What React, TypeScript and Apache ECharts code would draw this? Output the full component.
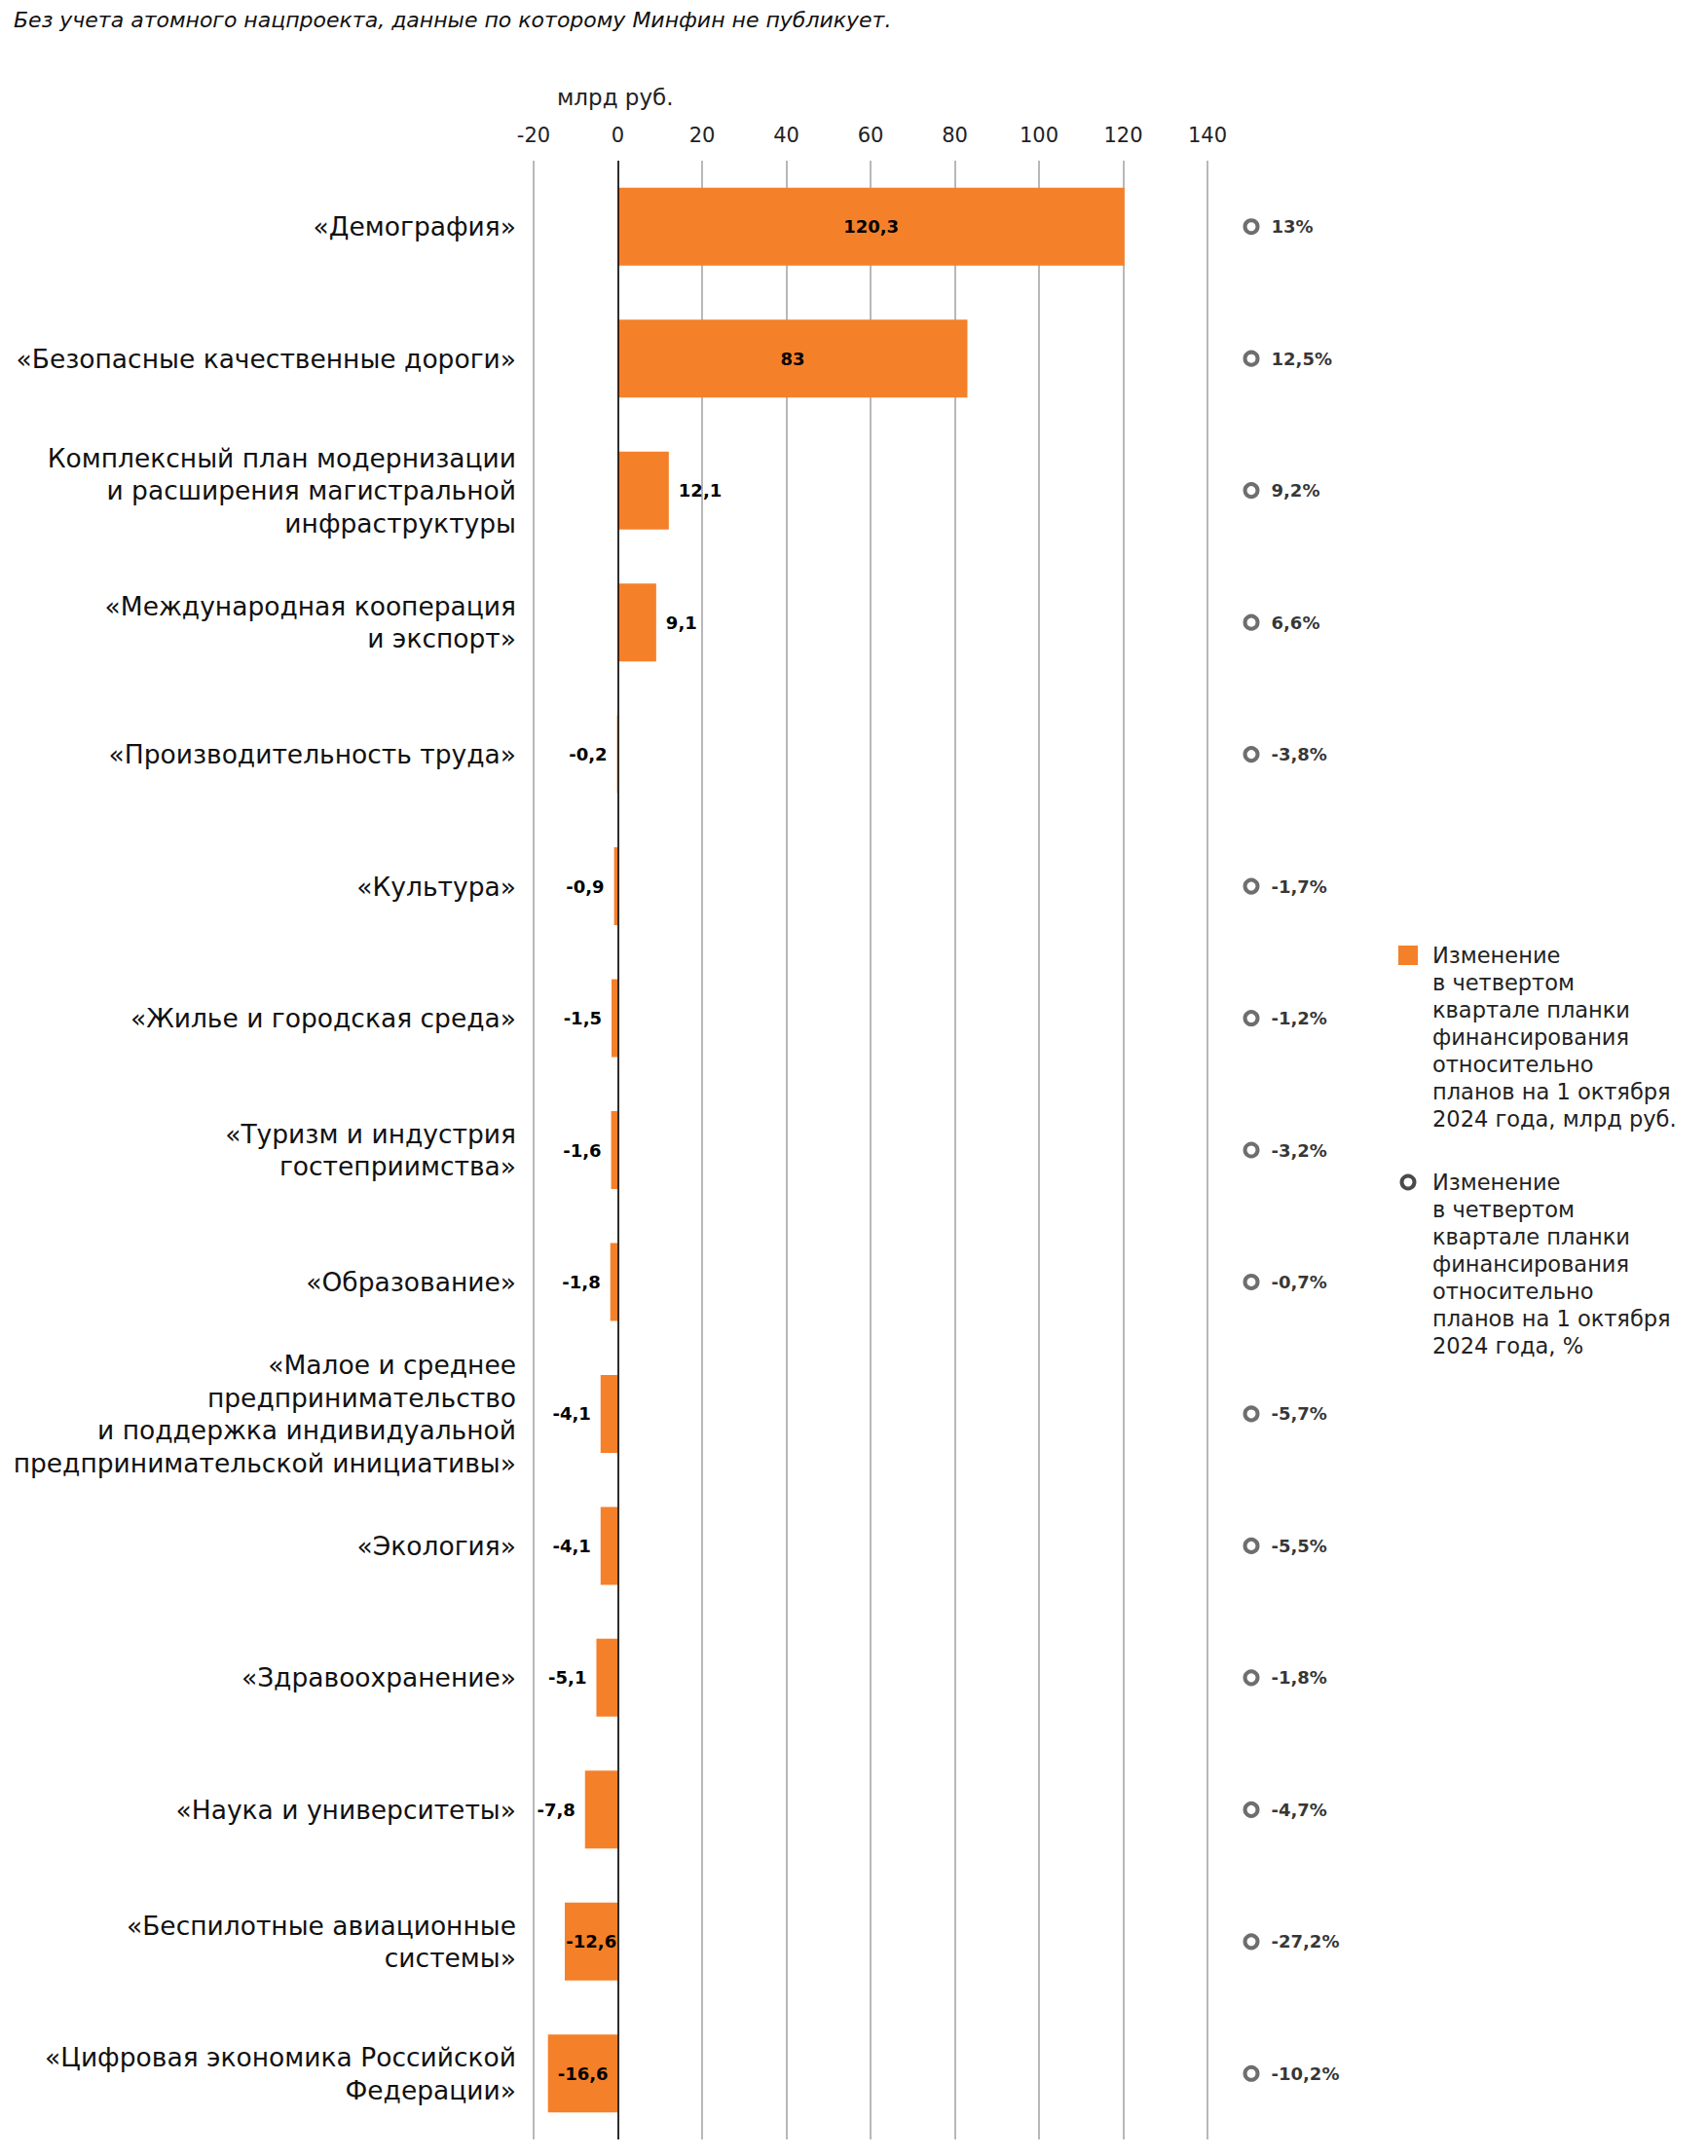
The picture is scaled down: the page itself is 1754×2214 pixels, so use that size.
import React, { useEffect, useRef } from 'react';
import * as echarts from 'echarts';

const categories: string[] = [
  '«Демография»',
  '«Безопасные качественные дороги»',
  'Комплексный план модернизации\nи расширения магистральной\nинфраструктуры',
  '«Международная кооперация\nи экспорт»',
  '«Производительность труда»',
  '«Культура»',
  '«Жилье и городская среда»',
  '«Туризм и индустрия\nгостеприимства»',
  '«Образование»',
  '«Малое и среднее\nпредпринимательство\nи поддержка индивидуальной\nпредпринимательской инициативы»',
  '«Экология»',
  '«Здравоохранение»',
  '«Наука и университеты»',
  '«Беспилотные авиационные\nсистемы»',
  '«Цифровая экономика Российской\nФедерации»',
];

const changeBln: number[] = [120.3, 83, 12.1, 9.1, -0.2, -0.9, -1.5, -1.6, -1.8, -4.1, -4.1, -5.1, -7.8, -12.6, -16.6];
const changePct: number[] = [13, 12.5, 9.2, 6.6, -3.8, -1.7, -1.2, -3.2, -0.7, -5.7, -5.5, -1.8, -4.7, -27.2, -10.2];

const axisMin = -20;
const axisMax = 140;
const axisStep = 20;

const noteText = 'Без учета атомного нацпроекта, данные по которому Минфин не публикует.';
const unitText = 'млрд руб.';
const legendBarText = 'Изменение\nв четвертом\nквартале планки\nфинансирования\nотносительно\nпланов на 1 октября\n2024 года, млрд руб.';
const legendPctText = 'Изменение\nв четвертом\nквартале планки\nфинансирования\nотносительно\nпланов на 1 октября\n2024 года, %';

const ORANGE = '#F5802A';
const FONT = '"DejaVu Sans", sans-serif';
const fmt = (v: number) => String(v).replace('.', ',');

export default function App() {
  const ref = useRef<HTMLDivElement>(null);
  useEffect(() => {
    if (!ref.current) return;
    const chart = echarts.init(ref.current, undefined, { renderer: 'svg' });
    const gridTop = 165;
    const gridBottom = 17;

    const barData = changeBln.map((v) => {
      const inside = Math.abs(v) >= 12.5;
      return {
        value: v,
        label: {
          position: inside ? 'inside' : v >= 0 ? 'right' : 'left',
          distance: 10,
        },
      };
    });

    const option: any = {
      animation: false,
      backgroundColor: '#ffffff',
      textStyle: { fontFamily: FONT },
      grid: [
        { left: 548, right: 1754 - 1240, top: gridTop, bottom: gridBottom, containLabel: false },
        { left: 1285, width: 100, top: gridTop, bottom: gridBottom, containLabel: false },
      ],
      xAxis: [
        {
          type: 'value',
          gridIndex: 0,
          position: 'top',
          min: axisMin,
          max: axisMax,
          interval: axisStep,
          axisLine: { show: false },
          axisTick: { show: false },
          axisLabel: { fontSize: 21, color: '#222', margin: 16, fontFamily: FONT },
          splitLine: { show: true, lineStyle: { color: '#a0a0a0', width: 1.5 } },
        },
        { type: 'value', gridIndex: 1, min: 0, max: 1, show: false },
      ],
      yAxis: [
        {
          type: 'category',
          gridIndex: 0,
          inverse: true,
          data: categories,
          axisLine: { show: false },
          axisTick: { show: false },
          axisLabel: {
            fontSize: 26.5,
            lineHeight: 33.5,
            color: '#111',
            margin: 18,
            align: 'right',
            fontFamily: FONT,
          },
        },
        { type: 'category', gridIndex: 1, inverse: true, data: categories, show: false },
      ],
      series: [
        {
          type: 'bar',
          xAxisIndex: 0,
          yAxisIndex: 0,
          data: barData,
          barWidth: 80,
          itemStyle: { color: ORANGE },
          label: {
            show: true,
            formatter: (p: any) => fmt(p.value),
            color: '#000',
            fontWeight: 'bold',
            fontSize: 18,
            fontFamily: FONT,
          },
          markLine: {
            silent: true,
            symbol: 'none',
            label: { show: false },
            lineStyle: { color: '#000', width: 1.5, type: 'solid' },
            data: [{ xAxis: 0 }],
          },
        },
        {
          type: 'scatter',
          xAxisIndex: 1,
          yAxisIndex: 1,
          data: changePct.map((p, i) => [0, i, p]),
          encode: { x: 0, y: 1 },
          symbol: 'circle',
          symbolSize: 13,
          itemStyle: { color: '#fff', borderColor: '#4a4a4a', borderWidth: 4 },
          label: {
            show: true,
            position: 'right',
            distance: 12,
            formatter: (p: any) => fmt(p.value[2]) + '%',
            color: '#000',
            fontWeight: 'bold',
            fontSize: 18,
            fontFamily: FONT,
          },
        },
      ],
      graphic: [
        {
          type: 'text',
          left: 14,
          top: 9,
          style: { text: noteText, fill: '#111', font: `italic 22px ${FONT}` },
        },
        {
          type: 'text',
          x: 572,
          y: 100,
          style: { text: unitText, fill: '#222', font: `23px ${FONT}`, verticalAlign: 'middle', align: 'left' },
        },
        {
          type: 'rect',
          shape: { x: 1436, y: 971, width: 20, height: 20 },
          style: { fill: ORANGE },
        },
        {
          type: 'text',
          x: 1471,
          y: 967,
          style: { text: legendBarText, font: `22.5px ${FONT}`, lineHeight: 28, fill: '#222', verticalAlign: 'top', align: 'left' },
        },
        {
          type: 'circle',
          shape: { cx: 1446, cy: 1214, r: 6.5 },
          style: { fill: '#fff', stroke: '#4a4a4a', lineWidth: 4 },
        },
        {
          type: 'text',
          x: 1471,
          y: 1200,
          style: { text: legendPctText, font: `22.5px ${FONT}`, lineHeight: 28, fill: '#222', verticalAlign: 'top', align: 'left' },
        },
      ],
    };
    chart.setOption(option);
    return () => chart.dispose();
  }, []);
  return <div ref={ref} style={{ position: 'absolute', left: 0, top: 0, width: 1754, height: 2214 }} />;
}
